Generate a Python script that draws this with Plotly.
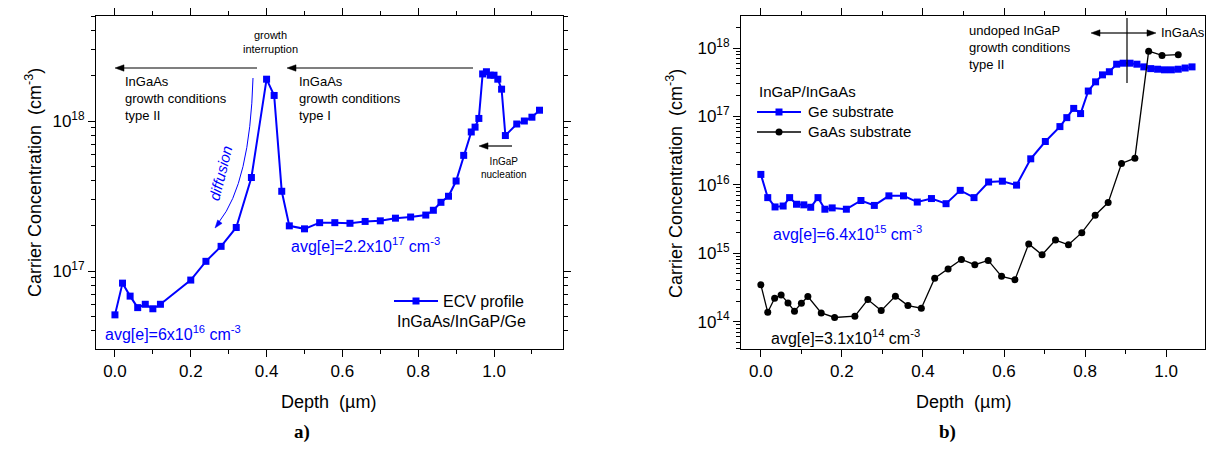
import math
import plotly.graph_objects as go

# ---------------- data ----------------
# panel a) ECV profile InGaAs/InGaP/Ge
ecv_depth = [0.00, 0.02, 0.04, 0.06, 0.08, 0.10, 0.12, 0.20, 0.24, 0.28, 0.32, 0.36,
             0.40, 0.42, 0.44, 0.46, 0.50, 0.54, 0.58, 0.62, 0.66, 0.70, 0.74, 0.78,
             0.82, 0.84, 0.86, 0.88, 0.90, 0.92, 0.94, 0.95, 0.96, 0.97, 0.98, 0.99,
             1.00, 1.01, 1.02, 1.03, 1.06, 1.08, 1.10, 1.12]
ecv_conc = [5.1e16, 8.3e16, 6.8e16, 5.7e16, 6.0e16, 5.6e16, 6.0e16, 8.7e16, 1.16e17, 1.46e17,
            1.95e17, 4.2e17, 1.9e18, 1.48e18, 3.4e17, 2.0e17, 1.91e17, 2.1e17, 2.1e17, 2.08e17,
            2.14e17, 2.16e17, 2.25e17, 2.29e17, 2.36e17, 2.54e17, 2.87e17, 3.15e17, 3.98e17,
            5.9e17, 8.45e17, 9.1e17, 1.04e18, 2.06e18, 2.13e18, 2.02e18, 2.02e18, 1.9e18,
            1.63e18, 8.0e17, 9.55e17, 1.0e18, 1.06e18, 1.18e18]

# panel b) InGaP/InGaAs on Ge substrate
ge_depth = [0.000, 0.017, 0.035, 0.055, 0.071, 0.088, 0.106, 0.123, 0.141, 0.158, 0.176,
            0.211, 0.247, 0.280, 0.316, 0.352, 0.386, 0.421, 0.457, 0.492, 0.526, 0.562,
            0.596, 0.631, 0.666, 0.702, 0.738, 0.755, 0.772, 0.789, 0.808, 0.826, 0.843,
            0.860, 0.878, 0.894, 0.911, 0.928, 0.945, 0.962, 0.979, 0.996, 1.013, 1.030,
            1.047, 1.064]
ge_conc = [1.42e16, 6.5e15, 4.75e15, 4.9e15, 6.5e15, 5.2e15, 5.1e15, 4.7e15, 6.5e15, 4.4e15,
           4.6e15, 4.4e15, 5.9e15, 5.0e15, 6.9e15, 6.9e15, 5.6e15, 6.3e15, 5.3e15, 8.3e15,
           6.5e15, 1.1e16, 1.13e16, 9.9e15, 2.4e16, 4.3e16, 7.1e16, 9.6e16, 1.31e17, 1.1e17,
           2.35e17, 3.2e17, 4.05e17, 4.5e17, 5.8e17, 6.0e17, 6.0e17, 5.8e17, 5.3e17, 5.0e17,
           4.9e17, 4.8e17, 4.8e17, 4.9e17, 5.1e17, 5.3e17]

# panel b) InGaP/InGaAs on GaAs substrate
gaas_depth = [0.000, 0.017, 0.034, 0.050, 0.067, 0.083, 0.100, 0.116, 0.149, 0.182, 0.232,
              0.264, 0.297, 0.332, 0.363, 0.396, 0.429, 0.462, 0.495, 0.528, 0.561, 0.594,
              0.627, 0.661, 0.694, 0.727, 0.759, 0.792, 0.825, 0.857, 0.890, 0.923, 0.957,
              0.990, 1.030]
gaas_conc = [3.45e14, 1.37e14, 2.2e14, 2.46e14, 1.88e14, 1.42e14, 1.86e14, 2.33e14, 1.34e14,
             1.15e14, 1.2e14, 2.1e14, 1.45e14, 2.36e14, 1.72e14, 1.57e14, 4.3e14, 5.9e14,
             8.1e14, 6.8e14, 7.85e14, 4.6e14, 4.1e14, 1.37e15, 9.5e14, 1.56e15, 1.33e15,
             2.0e15, 3.6e15, 5.5e15, 2.05e16, 2.45e16, 9.0e17, 7.8e17, 8.0e17]

left_ytick_vals = [1e17, 1e18]
left_ytick_text = ["10<sup>17</sup>", "10<sup>18</sup>"]
right_ytick_vals = [1e14, 1e15, 1e16, 1e17, 1e18]
right_ytick_text = ["10<sup>14</sup>", "10<sup>15</sup>", "10<sup>16</sup>",
                    "10<sup>17</sup>", "10<sup>18</sup>"]

# ---------------- layout helpers ----------------
W, H = 1214, 458
BLUE = "#0000FF"
FONT = "Arial, 'Liberation Sans', sans-serif"


def px(x):
    return x / W


def py(y):
    return 1 - y / H


def minor_log(lo, hi):
    vals = []
    for e in range(lo, hi + 1):
        for m in range(2, 10):
            vals.append(m * 10 ** e)
    return vals


fig = go.Figure()
fig.add_trace(go.Scatter(x=ecv_depth, y=ecv_conc, mode="lines+markers", xaxis="x", yaxis="y",
                         line=dict(color=BLUE, width=2),
                         marker=dict(symbol="square", size=7, color=BLUE),
                         name="ECV profile InGaAs/InGaP/Ge", showlegend=False))
fig.add_trace(go.Scatter(x=ge_depth, y=ge_conc, mode="lines+markers", xaxis="x2", yaxis="y2",
                         line=dict(color=BLUE, width=2),
                         marker=dict(symbol="square", size=7, color=BLUE),
                         name="Ge substrate", showlegend=False))
fig.add_trace(go.Scatter(x=gaas_depth, y=gaas_conc, mode="lines+markers", xaxis="x2", yaxis="y2",
                         line=dict(color="black", width=1.3),
                         marker=dict(symbol="circle", size=7, color="black"),
                         name="GaAs substrate", showlegend=False))

common_x = dict(showline=True, linecolor="black", linewidth=1, mirror="ticks",
                ticks="outside", ticklen=7, tickwidth=1, tickcolor="black",
                dtick=0.2, tick0=0, tickformat=".1f", showgrid=False, zeroline=False,
                minor=dict(dtick=0.1, tick0=0, ticks="outside", ticklen=4, tickcolor="black",
                           showgrid=False),
                tickfont=dict(family=FONT, size=17, color="black"))
common_y = dict(type="log", showline=True, linecolor="black", linewidth=1, mirror="ticks",
                ticks="outside", ticklen=7, tickwidth=1, tickcolor="black",
                showgrid=False, zeroline=False, tickmode="array",
                tickfont=dict(family=FONT, size=17, color="black"))

fig.update_layout(
    width=W, height=H, margin=dict(l=0, r=0, t=0, b=0),
    paper_bgcolor="white", plot_bgcolor="white",
    font=dict(family=FONT, color="black"),
    xaxis=dict(domain=[px(88), px(555)], range=[-0.05, 1.182], anchor="y", **common_x),
    yaxis=dict(domain=[py(341), py(8)], range=[16.48, 18.70], anchor="x",
               tickvals=left_ytick_vals, ticktext=left_ytick_text,
               minor=dict(tickmode="array", tickvals=minor_log(16, 18), ticks="outside",
                          ticklen=4, tickcolor="black", showgrid=False),
               **common_y),
    xaxis2=dict(domain=[px(733), px(1197)], range=[-0.049, 1.096], anchor="y2", **common_x),
    yaxis2=dict(domain=[py(341), py(8)], range=[13.6, 18.468], anchor="x2",
                tickvals=right_ytick_vals, ticktext=right_ytick_text,
                minor=dict(tickmode="array", tickvals=minor_log(13, 18), ticks="outside",
                           ticklen=4, tickcolor="black", showgrid=False),
                **common_y),
)

ann = []
shapes = []


def text(x, y, t, size=13, color="black", xanchor="left", align="left", **kw):
    ann.append(dict(x=px(x), y=py(y), xref="paper", yref="paper", text=t, showarrow=False,
                    xanchor=xanchor, yanchor="middle", align=align,
                    font=dict(family=FONT, size=size, color=color), **kw))


def seg(x0, y0, x1, y1, color="black", width=1.2):
    shapes.append(dict(type="line", xref="paper", yref="paper", x0=px(x0), y0=py(y0),
                       x1=px(x1), y1=py(y1), line=dict(color=color, width=width)))


def head(xt, yt, dx, dy, color="black", length=9, half=3.2):
    """filled arrowhead with tip at (xt, yt) pointing along (dx, dy) in pixel space"""
    n = math.hypot(dx, dy)
    ux, uy = dx / n, dy / n
    bx, by = xt - ux * length, yt - uy * length
    p1 = (bx - uy * half, by + ux * half)
    p2 = (bx + uy * half, by - ux * half)
    path = (f"M {px(xt)},{py(yt)} L {px(p1[0])},{py(p1[1])} "
            f"L {px(p2[0])},{py(p2[1])} Z")
    shapes.append(dict(type="path", xref="paper", yref="paper", path=path,
                       fillcolor=color, line=dict(color=color, width=0.5)))


def harrow(x_tail, x_head, y, color="black"):
    seg(x_tail, y, x_head + (6 if x_head < x_tail else -6), y, color=color)
    head(x_head, y, x_head - x_tail, 0, color=color)


# axis titles
text(321, 394, "Depth\u00a0 (\u00b5m)", size=18, xanchor="center", align="center")
text(955, 394, "Depth\u00a0 (\u00b5m)", size=18, xanchor="center", align="center")
text(25, 175, "Carrier Concentration\u00a0 (cm<sup>-3</sup>)", size=18, xanchor="center",
     align="center", textangle=-90)
text(666, 175, "Carrier Concentration\u00a0 (cm<sup>-3</sup>)", size=18, xanchor="center",
     align="center", textangle=-90)

# panel labels
ann.append(dict(x=px(284), y=py(437), xref="paper", yref="paper", text="<b>a)</b>",
                showarrow=False, font=dict(family="'Liberation Serif', 'Times New Roman', serif",
                                           size=19, color="black")))
ann.append(dict(x=px(950), y=py(437), xref="paper", yref="paper", text="<b>b)</b>",
                showarrow=False, font=dict(family="'Liberation Serif', 'Times New Roman', serif",
                                           size=19, color="black")))

# panel a annotations
text(262, 34, "growth<br>interruption", size=11, xanchor="center", align="center")
harrow(249, 107, 60)
harrow(465, 279, 60)
text(115, 91, "InGaAs<br>growth conditions<br>type II", size=13)
text(289, 91, "InGaAs<br>growth conditions<br>type I", size=13)
harrow(504, 471, 138)
text(496, 160, "InGaP<br>nucleation", size=10, xanchor="center", align="center")
text(212, 165, "<i>diffusion</i>", size=15, color=BLUE, xanchor="center", align="center",
     textangle=-76)
shapes.append(dict(type="path", xref="paper", yref="paper",
                   path=f"M {px(245)},{py(70)} Q {px(242)},{py(175)} {px(211)},{py(214)}",
                   line=dict(color=BLUE, width=1)))
head(207, 220, -33, 43, color=BLUE, length=8, half=2.8)
text(95, 325, "avg[e]=6x10<sup>16</sup> cm<sup>-3</sup>", size=16, color=BLUE)
text(281, 237, "avg[e]=2.2x10<sup>17</sup> cm<sup>-3</sup>", size=16, color=BLUE)

# panel a legend
seg(386, 293, 430, 293, color=BLUE, width=2)
shapes.append(dict(type="rect", xref="paper", yref="paper", x0=px(404.5), x1=px(411.5),
                   y0=py(296.5), y1=py(289.5), fillcolor=BLUE, line=dict(color=BLUE, width=0)))
text(433, 293, "ECV profile", size=16)
text(387, 313, "InGaAs/InGaP/Ge", size=16)

# panel b annotations
text(959, 40, "undoped InGaP<br>growth conditions<br>type II", size=13)
harrow(1119, 1083, 25)
harrow(1119, 1148, 25)
seg(1119, 10, 1119, 75)
text(1151, 25, "InGaAs", size=13)
text(763, 225, "avg[e]=6.4x10<sup>15</sup> cm<sup>-3</sup>", size=16, color=BLUE)
text(761, 329, "avg[e]=3.1x10<sup>14</sup> cm<sup>-3</sup>", size=16, color="black")

# panel b legend
text(749, 83, "InGaP/InGaAs", size=15)
seg(749, 104, 793, 104, color=BLUE, width=2)
shapes.append(dict(type="rect", xref="paper", yref="paper", x0=px(767.5), x1=px(774.5),
                   y0=py(107.5), y1=py(100.5), fillcolor=BLUE, line=dict(color=BLUE, width=0)))
text(798, 104, "Ge substrate", size=15)
seg(749, 124, 793, 124, color="black", width=1.3)
shapes.append(dict(type="circle", xref="paper", yref="paper", x0=px(767.5), x1=px(774.5),
                   y0=py(127.5), y1=py(120.5), fillcolor="black", line=dict(color="black", width=0)))
text(798, 124, "GaAs substrate", size=15)

fig.update_layout(annotations=ann, shapes=shapes)
fig.write_html("out.html")
